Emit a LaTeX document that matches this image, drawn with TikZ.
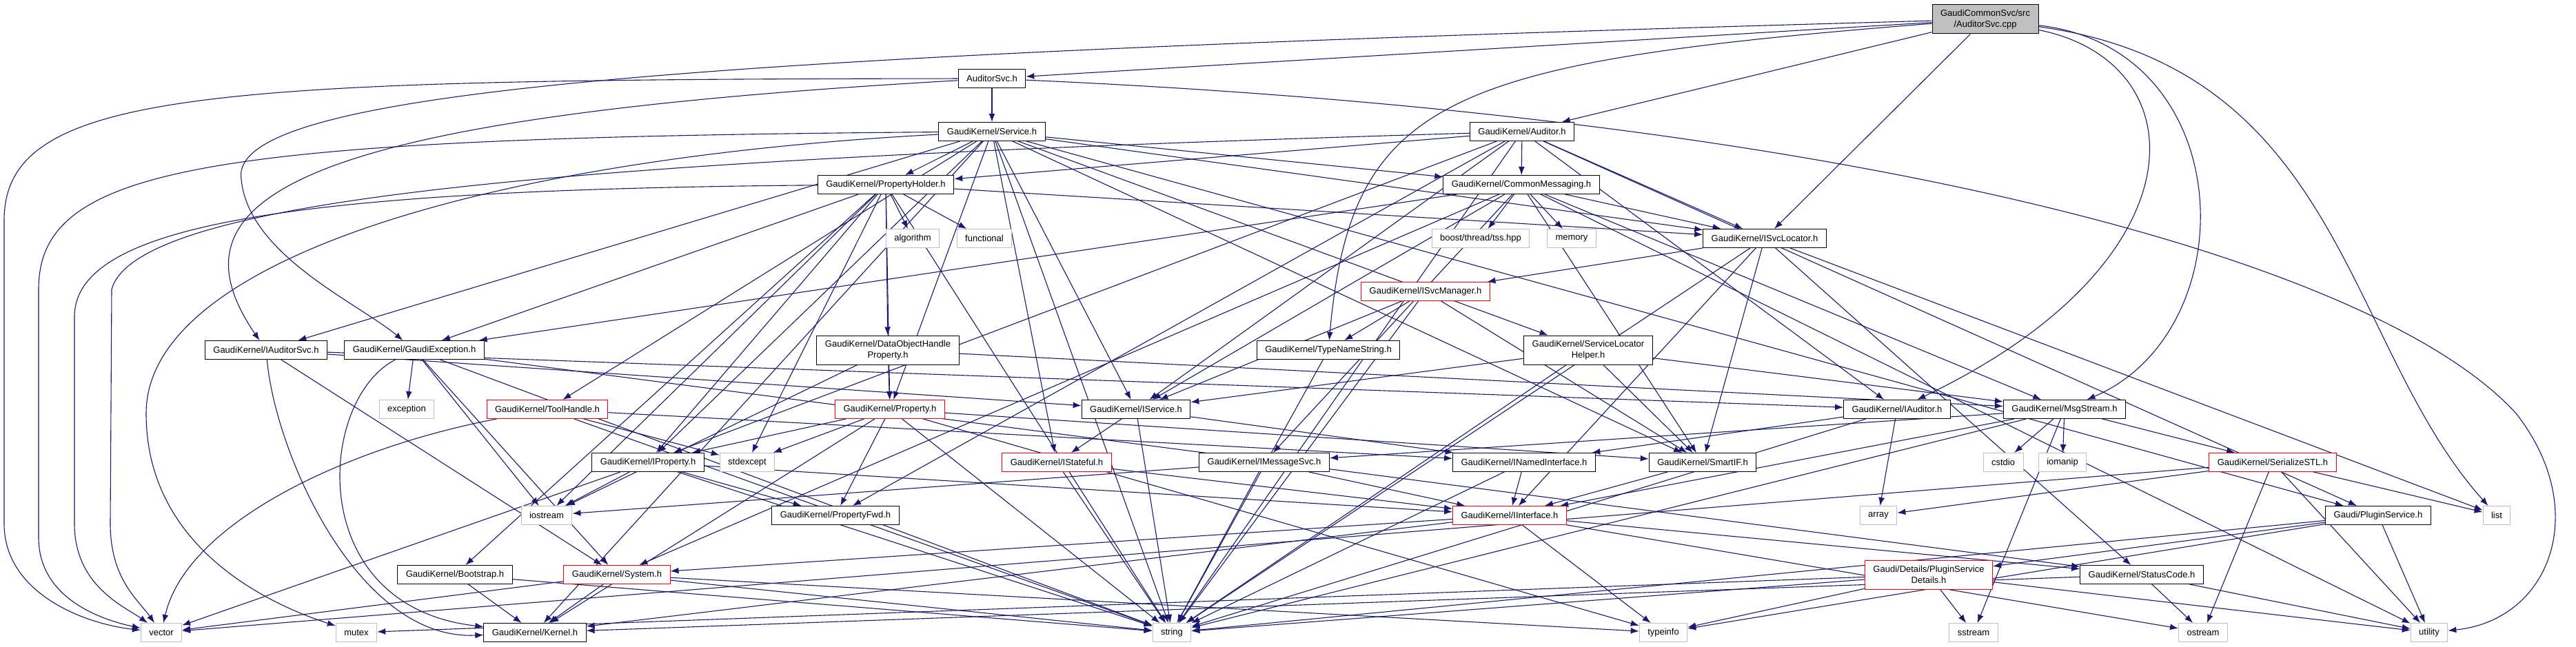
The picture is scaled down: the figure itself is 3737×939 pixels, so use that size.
\documentclass[tikz,border=0pt]{standalone}
\usepackage{fontspec}
\setmainfont{Liberation Sans}
\usepackage{tikz}
\usetikzlibrary{arrows.meta}
\usetikzlibrary{backgrounds}

\definecolor{edgeblue}{HTML}{191970}
\definecolor{sysgray}{HTML}{BFBFBF}

\begin{document}
\begin{tikzpicture}[x=1pt,y=-1pt,
	every node/.style={font=\fontsize{13}{16}\selectfont, inner xsep=12pt, inner ysep=0pt, minimum height=27pt, fill=white, align=center},
	doc/.style={draw=black, line width=1pt},
	trunc/.style={draw=red, line width=1pt},
	sys/.style={draw=sysgray, line width=1pt},
	root/.style={draw=black, fill=sysgray, line width=1pt, minimum height=42pt},
	tall/.style={minimum height=42pt},
	dep/.style={draw=edgeblue, line width=1.1pt, -{Latex[length=12pt,width=9pt]}}]
			\useasboundingbox (0,0) rectangle (3737,939);
			
			\node[root] (cpp) at (2880,28) {GaudiCommonSvc/src\\/AuditorSvc.cpp};
			\node[doc] (AudSvcH) at (1439,114) {AuditorSvc.h};
			\node[doc] (Service) at (1439,191) {GaudiKernel/Service.h};
			\node[doc] (Auditor) at (2208,191) {GaudiKernel/Auditor.h};
			\node[doc] (PropHolder) at (1285,268) {GaudiKernel/PropertyHolder.h};
			\node[doc] (CommonMsg) at (2207,268) {GaudiKernel/CommonMessaging.h};
			\node[sys] (algorithm) at (1324,346) {algorithm};
			\node[sys] (functional) at (1428,346) {functional};
			\node[sys] (boost) at (2148,346) {boost/thread/tss.hpp};
			\node[sys] (memory) at (2280,346) {memory};
			\node[doc] (ISvcLocator) at (2560,346) {GaudiKernel/ISvcLocator.h};
			\node[trunc] (ISvcManager) at (2068,423) {GaudiKernel/ISvcManager.h};
			\node[doc] (IAuditorSvc) at (386,508) {GaudiKernel/IAuditorSvc.h};
			\node[doc] (GaudiExc) at (601,508) {GaudiKernel/GaudiException.h};
			\node[doc,tall] (DOHProp) at (1288,508) {GaudiKernel/DataObjectHandle\\Property.h};
			\node[doc] (TypeName) at (1927,508) {GaudiKernel/TypeNameString.h};
			\node[doc,tall] (SLHelper) at (2304,508) {GaudiKernel/ServiceLocator\\Helper.h};
			\node[sys] (exception) at (590,594) {exception};
			\node[trunc] (ToolHandle) at (794,594) {GaudiKernel/ToolHandle.h};
			\node[trunc] (Property) at (1291,594) {GaudiKernel/Property.h};
			\node[doc] (IService) at (1648,594) {GaudiKernel/IService.h};
			\node[doc] (IAuditor) at (2752,594) {GaudiKernel/IAuditor.h};
			\node[doc] (MsgStream) at (2995,594) {GaudiKernel/MsgStream.h};
			\node[doc] (IProperty) at (940,671) {GaudiKernel/IProperty.h};
			\node[sys] (stdexcept) at (1084,671) {stdexcept};
			\node[trunc] (IStateful) at (1533,671) {GaudiKernel/IStateful.h};
			\node[doc] (IMessageSvc) at (1834,671) {GaudiKernel/IMessageSvc.h};
			\node[doc] (INamed) at (2211,671) {GaudiKernel/INamedInterface.h};
			\node[doc] (SmartIF) at (2470,671) {GaudiKernel/SmartIF.h};
			\node[sys] (cstdio) at (2906,671) {cstdio};
			\node[sys] (iomanip) at (2992,671) {iomanip};
			\node[trunc] (SerialSTL) at (3297,671) {GaudiKernel/SerializeSTL.h};
			\node[sys] (iostream) at (793,748) {iostream};
			\node[doc] (PropFwd) at (1212,748) {GaudiKernel/PropertyFwd.h};
			\node[trunc] (IInterface) at (2190,748) {GaudiKernel/IInterface.h};
			\node[sys] (array) at (2725,748) {array};
			\node[doc] (PluginSvc) at (3450,748) {Gaudi/PluginService.h};
			\node[sys] (list) at (3622,748) {list};
			\node[doc] (Bootstrap) at (660,834) {GaudiKernel/Bootstrap.h};
			\node[trunc] (System) at (895,834) {GaudiKernel/System.h};
			\node[trunc,tall] (PSDetails) at (2798,834) {Gaudi/Details/PluginService\\Details.h};
			\node[doc] (StatusCode) at (3107,834) {GaudiKernel/StatusCode.h};
			\node[sys] (vector) at (234,918) {vector};
			\node[sys] (mutex) at (517,918) {mutex};
			\node[doc] (Kernel) at (776,918) {GaudiKernel/Kernel.h};
			\node[sys] (string) at (1700,918) {string};
			\node[sys] (typeinfo) at (2413,918) {typeinfo};
			\node[sys] (sstream) at (2863,918) {sstream};
			\node[sys] (ostream) at (3196,918) {ostream};
			\node[sys] (utility) at (3524,918) {utility};
			
			\begin{scope}[on background layer]
			\draw[dep] (AudSvcH) .. controls (300,115) and (6,130) .. (6,320) -- (6,760) .. controls (6,860) and (120,905) .. (vector);
			\draw[dep] (Service) .. controls (300,200) and (56,240) .. (56,420) -- (56,780) .. controls (56,870) and (150,900) .. (vector);
			\draw[dep] (PropHolder) .. controls (400,275) and (108,330) .. (108,460) -- (108,760) .. controls (108,850) and (180,880) .. (vector);
			\draw[dep] (Auditor) .. controls (900,230) and (200,280) .. (162,420) -- (160,760) .. controls (160,840) and (200,870) .. (vector);
			\draw[dep] (Service) .. controls (700,230) and (212,380) .. (212,600) .. controls (212,800) and (400,880) .. (mutex);
			\draw[dep] (ToolHandle) .. controls (500,650) and (270,760) .. (vector);
			\draw[dep] (GaudiExc) .. controls (460,580) and (440,880) .. (Kernel);
			\draw[dep] (IAuditorSvc) .. controls (400,660) and (520,930) .. (Kernel);
			\draw[dep] (AudSvcH) .. controls (450,170) and (230,280) .. (IAuditorSvc);
			\draw[dep] (cpp) .. controls (1000,80) and (330,130) .. (350,260) .. controls (360,370) and (520,440) .. (GaudiExc);
			\draw[dep] (cpp) .. controls (2100,90) and (1960,140) .. (TypeName);
			\draw[dep] (AudSvcH) .. controls (2700,170) and (3450,380) .. (3650,600) .. controls (3760,740) and (3700,900) .. (utility);
			\draw[dep] (cpp) .. controls (3190,90) and (3200,380) .. (IAuditor);
			\draw[dep] (cpp) .. controls (3250,70) and (3260,480) .. (MsgStream);
			\draw[dep] (cpp) .. controls (3400,100) and (3400,500) .. (list);
			
			\foreach \t in {AudSvcH,Auditor,ISvcLocator} \draw[dep] (cpp) -- (\t);
			\draw[dep] (AudSvcH) -- (Service);
			\foreach \t in {PropHolder,CommonMsg,IAuditorSvc,IProperty,IService,ISvcLocator,SLHelper,SmartIF,ToolHandle,IStateful,Kernel,Property,PluginSvc,string} \draw[dep] (Service) -- (\t);
			\foreach \t in {CommonMsg,PropHolder,IAuditor,IProperty,IService,ISvcLocator,PropFwd,PluginSvc,string} \draw[dep] (Auditor) -- (\t);
			\foreach \t in {algorithm,functional,DOHProp,Property,IProperty,stdexcept,iostream,string,Bootstrap,GaudiExc,ISvcLocator} \draw[dep] (PropHolder) -- (\t);
			\foreach \t in {boost,memory,ISvcLocator,IMessageSvc,MsgStream,SmartIF,GaudiExc,System,utility,IService} \draw[dep] (CommonMsg) -- (\t);
			\foreach \t in {ISvcManager,SmartIF,IInterface,StatusCode,string,list} \draw[dep] (ISvcLocator) -- (\t);
			\foreach \t in {TypeName,string,SmartIF,IService} \draw[dep] (ISvcManager) -- (\t);
			\draw[dep] (TypeName) -- (string);
			\foreach \t in {SmartIF,IService,MsgStream,string} \draw[dep] (SLHelper) -- (\t);
			\foreach \t in {Property,iostream,MsgStream} \draw[dep] (DOHProp) -- (\t);
			\foreach \t in {exception,iostream,StatusCode,System,string} \draw[dep] (GaudiExc) -- (\t);
			\foreach \t in {IService,IAuditor,System} \draw[dep] (IAuditorSvc) -- (\t);
			\foreach \t in {string,INamed,stdexcept} \draw[dep] (ToolHandle) -- (\t);
			\foreach \t in {PropFwd,iostream,IInterface,string,vector} \draw[dep] (IProperty) -- (\t);
			\foreach \t in {IProperty,stdexcept,PropFwd,string,typeinfo,Kernel,SmartIF} \draw[dep] (Property) -- (\t);
			\foreach \t in {IStateful,INamed,string} \draw[dep] (IService) -- (\t);
			\foreach \t in {IInterface,string} \draw[dep] (IStateful) -- (\t);
			\foreach \t in {IInterface,string,iostream} \draw[dep] (IMessageSvc) -- (\t);
			\foreach \t in {IInterface,string} \draw[dep] (INamed) -- (\t);
			\draw[dep] (SmartIF) -- (IInterface);
			\foreach \t in {INamed,array,string} \draw[dep] (IAuditor) -- (\t);
			\foreach \t in {IMessageSvc,SerialSTL,cstdio,iomanip,sstream,string,IInterface} \draw[dep] (MsgStream) -- (\t);
			\foreach \t in {array,list,utility,ostream,vector} \draw[dep] (SerialSTL) -- (\t);
			\foreach \t in {PSDetails,utility,string,typeinfo} \draw[dep] (PluginSvc) -- (\t);
			\foreach \t in {sstream,utility,string,typeinfo,mutex} \draw[dep] (PSDetails) -- (\t);
			\foreach \t in {ostream,utility,Kernel} \draw[dep] (StatusCode) -- (\t);
			\foreach \t in {Kernel,string} \draw[dep] (Bootstrap) -- (\t);
			\foreach \t in {Kernel,vector,string,typeinfo} \draw[dep] (System) -- (\t);
			\foreach \t in {typeinfo,StatusCode,Kernel,System,ostream} \draw[dep] (IInterface) -- (\t);
			\end{scope}
			\end{tikzpicture}
\end{document}
